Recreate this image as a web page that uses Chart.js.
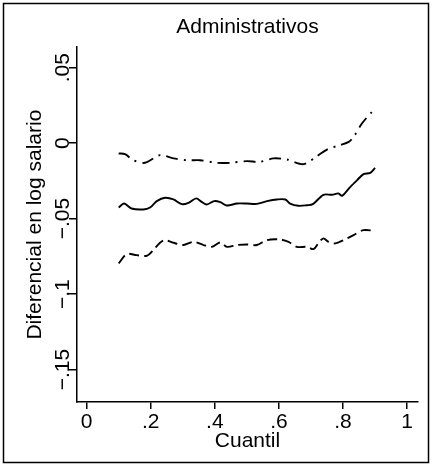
<!DOCTYPE html>
<html>
<head>
<meta charset="utf-8">
<script src="https://cdn.jsdelivr.net/npm/chart.js@4.4.1/dist/chart.umd.min.js"></script>
<style>
  html, body { margin: 0; padding: 0; background: #fff; }
  canvas { display: block; }
</style>
</head>
<body>
<canvas id="chart" width="432" height="466"></canvas>
<script>
// estimate (solid line)
const midQ = [0.10, 0.117, 0.14, 0.177, 0.198, 0.219, 0.245, 0.271, 0.297, 0.318, 0.342, 0.359, 0.375, 0.398, 0.417, 0.438, 0.469, 0.50, 0.531, 0.563, 0.594, 0.62, 0.635, 0.661, 0.688, 0.706, 0.739, 0.766, 0.786, 0.797, 0.823, 0.844, 0.864, 0.885, 0.90];
const midY = [-0.0426, -0.0400, -0.0433, -0.0439, -0.0426, -0.0384, -0.0362, -0.0373, -0.0404, -0.0395, -0.0366, -0.0389, -0.0406, -0.0384, -0.0391, -0.0413, -0.0400, -0.0400, -0.0402, -0.0384, -0.0373, -0.0373, -0.0400, -0.0415, -0.0411, -0.0404, -0.0342, -0.0342, -0.0333, -0.0349, -0.0289, -0.0245, -0.0205, -0.0197, -0.0164];

// upper band (dash-dot)
const upQ = [0.10, 0.12, 0.146, 0.182, 0.229, 0.271, 0.313, 0.354, 0.406, 0.448, 0.50, 0.54, 0.583, 0.625, 0.677, 0.719, 0.75, 0.79, 0.818, 0.833, 0.859, 0.89, 0.90];
const upY = [-0.0068, -0.0073, -0.0113, -0.0130, -0.0079, -0.0101, -0.0113, -0.0113, -0.0130, -0.0130, -0.0119, -0.0124, -0.0101, -0.0108, -0.0139, -0.0086, -0.0042, -0.0013, 0.0009, 0.0042, 0.0130, 0.0207, 0.0220];

// lower band (dashed)
const lowQ = [0.10, 0.125, 0.156, 0.188, 0.208, 0.229, 0.245, 0.271, 0.302, 0.333, 0.365, 0.39, 0.417, 0.438, 0.469, 0.50, 0.531, 0.563, 0.604, 0.63, 0.656, 0.688, 0.708, 0.724, 0.739, 0.755, 0.776, 0.802, 0.833, 0.864, 0.90];
const lowY = [-0.0797, -0.0735, -0.0742, -0.0746, -0.0709, -0.0660, -0.0642, -0.0660, -0.0675, -0.0654, -0.0675, -0.0687, -0.0658, -0.0687, -0.0675, -0.0671, -0.0675, -0.0642, -0.0638, -0.0654, -0.0687, -0.0687, -0.0702, -0.0660, -0.0631, -0.0654, -0.0664, -0.0642, -0.0609, -0.0576, -0.0581];

const FONT = 'Liberation Sans, Arial, Helvetica, sans-serif';

const pts = (xs, ys) => xs.map((x, i) => ({ x: x, y: ys[i] }));

const fmt = v => {
  if (Math.abs(v) < 1e-9) return '0';
  return String(+v.toFixed(2)).replace('0.', '.').replace('-', '\u2212');
};

const framePlugin = {
  id: 'frame',
  afterDraw(chart) {
    const ctx = chart.ctx;
    ctx.save();
    ctx.strokeStyle = '#000';
    ctx.lineWidth = 1.5;
    ctx.strokeRect(3.5, 3.5, 425, 459);
    ctx.restore();
  }
};

const line = { borderColor: '#000', borderWidth: 1.9, pointRadius: 0, tension: 0.3, fill: false };

new Chart(document.getElementById('chart'), {
  type: 'line',
  data: {
    datasets: [
      { ...line, data: pts(upQ, upY), borderDash: [12, 6, 2, 6] },
      { ...line, data: pts(midQ, midY) },
      { ...line, data: pts(lowQ, lowY), borderDash: [10, 5] }
    ]
  },
  options: {
    responsive: false,
    devicePixelRatio: 1,
    animation: false,
    layout: { padding: { left: 0, right: 14, top: 0, bottom: 0 } },
    plugins: {
      legend: { display: false },
      tooltip: { enabled: false },
      title: {
        display: true,
        text: 'Administrativos',
        fullSize: false,
        color: '#000',
        font: { family: FONT, size: 21, weight: 'normal', lineHeight: 1.2 },
        padding: { top: 15, bottom: 7 }
      }
    },
    scales: {
      x: {
        type: 'linear',
        min: -0.03,
        max: 1.034,
        border: { display: true, color: '#000', width: 1.5 },
        grid: { drawOnChartArea: false, drawTicks: true, tickLength: 7, color: '#000', lineWidth: 1.5 },
        ticks: { stepSize: 0.2, includeBounds: false, maxRotation: 0, autoSkip: false, padding: 1, color: '#000', font: { family: FONT, size: 21 }, callback: fmt },
        title: { display: true, text: 'Cuantil', color: '#000', font: { family: FONT, size: 21, lineHeight: 1.2 }, padding: { top: 0, bottom: 12.5 } },
        afterFit: s => { s.height = 64; }
      },
      y: {
        min: -0.1715,
        max: 0.0636,
        border: { display: true, color: '#000', width: 1.5 },
        grid: { drawOnChartArea: false, drawTicks: true, tickLength: 8, color: '#000', lineWidth: 1.5 },
        ticks: { stepSize: 0.05, includeBounds: false, minRotation: 90, maxRotation: 90, crossAlign: 'center', padding: -15, color: '#000', font: { family: FONT, size: 21 }, callback: fmt },
        title: { display: true, text: 'Diferencial en log salario', color: '#000', font: { family: FONT, size: 21, lineHeight: 1.2 }, padding: { top: 23, bottom: 0 } },
        afterFit: s => { s.width = 77; }
      }
    }
  },
  plugins: [framePlugin]
});
</script>
</body>
</html>
